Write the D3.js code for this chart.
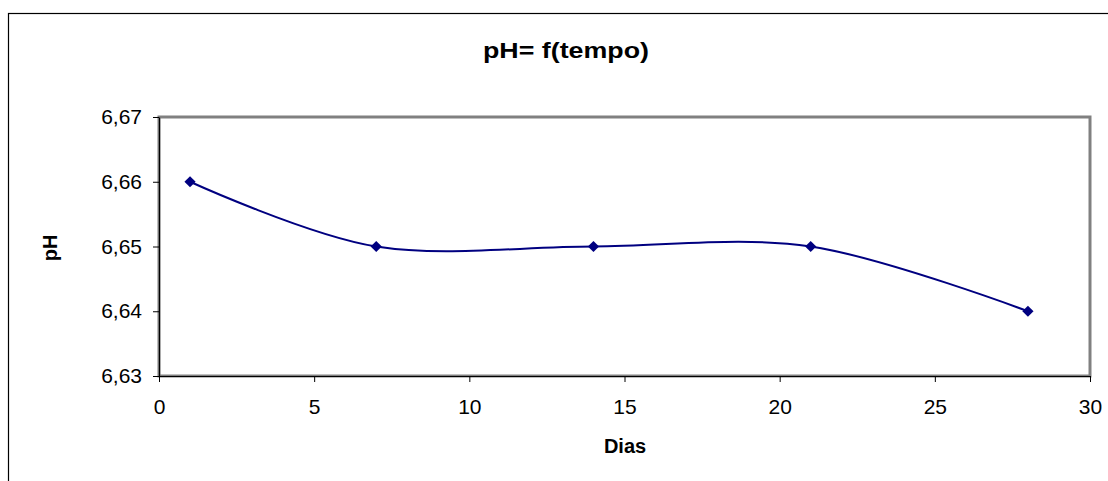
<!DOCTYPE html>
<html>
<head>
<meta charset="utf-8">
<script src="https://cdn.jsdelivr.net/npm/d3@7"></script>
<style>
	body { margin: 0; background: #fff; }
	svg { display: block; font-family: "Liberation Sans", Arial, sans-serif; }
</style>
</head>
<body>
<svg id="chart" width="1108" height="481"></svg>
<script>
'use strict';

// data
var arrayDias = [1, 7, 14, 21, 28];
var arrayPH = [6.66, 6.65, 6.65, 6.65, 6.64];
var arrayXTicks = [0, 5, 10, 15, 20, 25, 30];
var arrayYTicks = [6.63, 6.64, 6.65, 6.66, 6.67];

var strTitle = 'pH= f(tempo)';
var strXLabel = 'Dias';
var strYLabel = 'pH';

var svg = d3.select('#chart');

// outer chart frame (runs off the right and bottom edge)
svg.append('rect')
	.attr('x', 8.5).attr('y', 13.5)
	.attr('width', 1120).attr('height', 500)
	.attr('fill', '#fff')
	.attr('stroke', '#000')
	.attr('stroke-width', 1.2);

var nLeft = 159, nRight = 1090, nTop = 117, nBottom = 376;

var x = d3.scaleLinear().domain([0, 30]).range([nLeft, nRight]);
var y = d3.scaleLinear().domain([6.63, 6.67]).range([nBottom, nTop]);

// plot area border (gray)
svg.append('rect')
	.attr('x', nLeft).attr('y', nTop)
	.attr('width', nRight - nLeft).attr('height', nBottom - nTop)
	.attr('fill', 'none')
	.attr('stroke', '#808080')
	.attr('stroke-width', 3);

// axes
var axisY = d3.axisLeft(y).tickValues(arrayYTicks).tickSize(6).tickSizeOuter(0)
	.tickFormat(function(d) { return d3.format('.2f')(d).replace('.', ','); });
var gY = svg.append('g').attr('transform', 'translate(' + nLeft + ',0)').call(axisY);

var axisX = d3.axisBottom(x).tickValues(arrayXTicks).tickSize(6).tickSizeOuter(0);
var gX = svg.append('g').attr('transform', 'translate(0,' + nBottom + ')').call(axisX);

[gX, gY].forEach(function(g)
{
	g.select('.domain').attr('stroke', '#000').attr('stroke-width', 1.2);
	g.selectAll('.tick line').attr('stroke', '#000').attr('stroke-width', 1);
	g.selectAll('.tick text').attr('fill', '#000').style('font-size', '21px');
});
gY.selectAll('.tick text').attr('x', -17);
gX.selectAll('.tick text').attr('y', 23);

// series line, smoothed like the spreadsheet curve
var arrayPoints = arrayDias.map(function(d, i) { return [d, arrayPH[i]]; });

var line = d3.line()
	.x(function(d) { return x(d[0]); })
	.y(function(d) { return y(d[1]); })
	.curve(d3.curveCardinal.tension(0));

svg.append('path')
	.datum(arrayPoints)
	.attr('d', line)
	.attr('fill', 'none')
	.attr('stroke', '#000080')
	.attr('stroke-width', 2);

svg.selectAll('path.marker')
	.data(arrayPoints)
	.enter()
	.append('path')
		.attr('class', 'marker')
		.attr('d', d3.symbol().type(d3.symbolDiamond2).size(80))
		.attr('transform', function(d) { return 'translate(' + x(d[0]) + ',' + y(d[1]) + ')'; })
		.attr('fill', '#000080');

// texts
svg.append('text')
	.attr('x', 566).attr('y', 58)
	.attr('text-anchor', 'middle')
	.attr('textLength', 166)
	.attr('lengthAdjust', 'spacingAndGlyphs')
	.style('font-size', '22px').style('font-weight', 'bold')
	.text(strTitle);

svg.append('text')
	.attr('x', 625).attr('y', 453)
	.attr('text-anchor', 'middle')
	.style('font-size', '20px').style('font-weight', 'bold')
	.text(strXLabel);

svg.append('text')
	.attr('transform', 'translate(57,248) rotate(-90)')
	.attr('text-anchor', 'middle')
	.style('font-size', '20px').style('font-weight', 'bold')
	.text(strYLabel);
</script>
</body>
</html>
